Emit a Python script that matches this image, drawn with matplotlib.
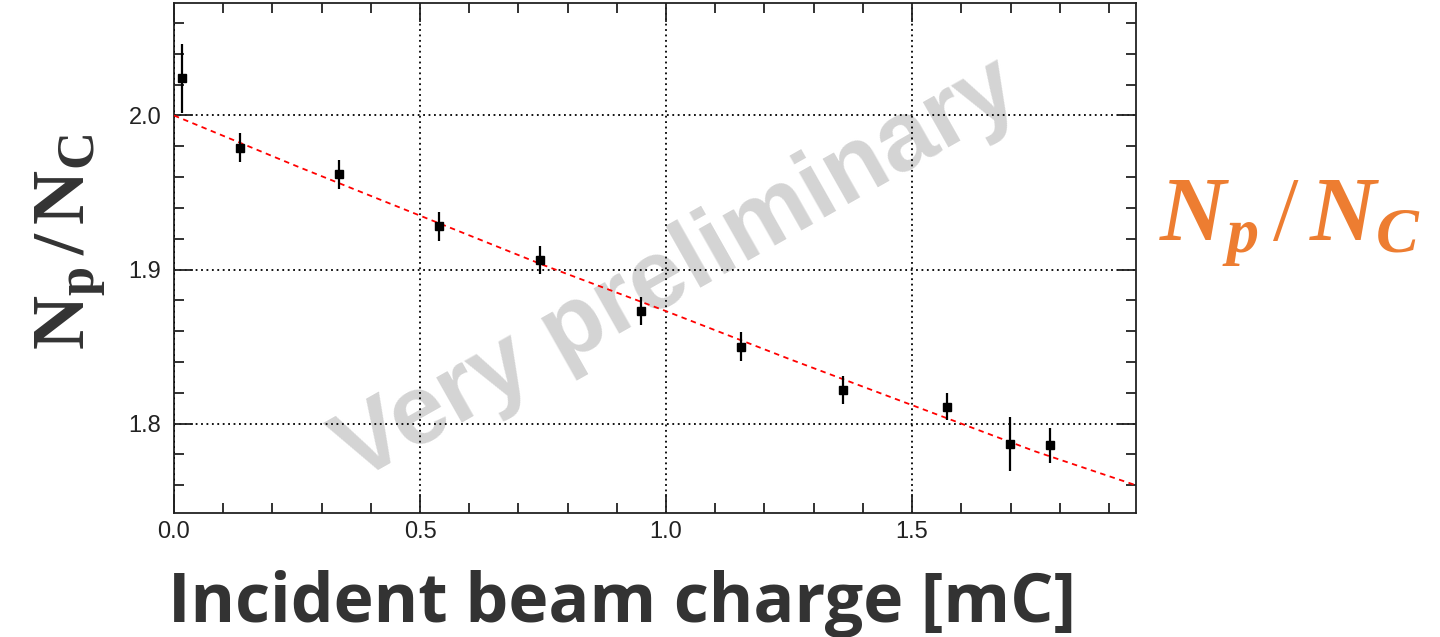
import matplotlib
matplotlib.use("Agg")
import matplotlib.pyplot as plt
from matplotlib.ticker import MultipleLocator, FormatStrFormatter

# beam charge [mC] vs Np/NC ratio
charge = [0.016, 0.134, 0.335, 0.539, 0.743, 0.949, 1.152, 1.360, 1.570, 1.698, 1.780]
ratio = [2.024, 1.979, 1.962, 1.928, 1.906, 1.873, 1.850, 1.822, 1.811, 1.787, 1.786]
ratio_err = [0.0225, 0.0094, 0.0094, 0.0092, 0.0092, 0.0090, 0.0092, 0.0090, 0.0089, 0.0175, 0.0114]

# fitted curve
fit_x = [0.0, 0.25, 0.5, 0.75, 1.0, 1.25, 1.5, 1.75, 1.955]
fit_y = [2.000, 1.967, 1.935, 1.903, 1.873, 1.842, 1.812, 1.782, 1.760]

xlim = (0.0, 1.955)
ylim = (1.742, 2.073)

plt.rcParams['mathtext.fontset'] = 'custom'
plt.rcParams['mathtext.rm'] = 'Liberation Serif'
plt.rcParams['mathtext.bf'] = 'Liberation Serif:bold'
plt.rcParams['mathtext.it'] = 'Liberation Serif:bold:italic'

fig = plt.figure(figsize=(14.4, 6.37), dpi=100)
ax = fig.add_axes([174 / 1440, 1 - 513 / 637, (1136 - 174) / 1440, (513 - 3) / 637])

# watermark
ax.text(1.024, 1.899, "Very preliminary", rotation=29.5, rotation_mode='anchor',
        ha='center', va='center', fontsize=71, fontweight='bold',
        family='Liberation Sans', color='#d4d4d4', zorder=0)

ax.plot(fit_x, fit_y, color='red', lw=1.3, linestyle=(0, (3, 2.5)), zorder=3)
ax.errorbar(charge, ratio, yerr=ratio_err, fmt='s', color='black', ms=6,
            elinewidth=1.6, capsize=0, zorder=4)

ax.set_xlim(*xlim)
ax.set_ylim(*ylim)
ax.xaxis.set_major_locator(MultipleLocator(0.5))
ax.xaxis.set_minor_locator(MultipleLocator(0.1))
ax.yaxis.set_major_locator(MultipleLocator(0.1))
ax.yaxis.set_minor_locator(MultipleLocator(0.02))
ax.xaxis.set_major_formatter(FormatStrFormatter('%.1f'))
ax.yaxis.set_major_formatter(FormatStrFormatter('%.1f'))

ax.grid(True, which='major', color='black', lw=1.3, linestyle=(0, (1, 2)))
ax.set_axisbelow(False)
ax.tick_params(which='both', direction='in', top=True, right=True, colors='#222222',
               labelsize=17, width=1.3)
ax.tick_params(which='major', length=14)
ax.tick_params(which='minor', length=7)
ax.tick_params(axis='x', pad=6)
ax.tick_params(axis='y', pad=9)
for lab in ax.get_xticklabels() + ax.get_yticklabels():
    lab.set_family('Liberation Sans')
for sp in ax.spines.values():
    sp.set_linewidth(1.3)
    sp.set_color('#222222')

fig.text(70 / 1440, 1 - 242 / 637, r'$\mathbf{N_p\,/\,N_C}$', rotation=90,
         ha='center', va='center', fontsize=54, color='#333333')
fig.text(1290 / 1440, 1 - 224 / 637, r'$N_p\,/\,N_C$', ha='center', va='center',
         fontsize=66, color='#ED7D31')
fig.text(168 / 1440, 1 - 622 / 637, "Incident beam charge [mC]", ha='left',
         va='baseline', fontsize=49, fontweight='bold', family='Open Sans',
         color='#333333')

fig.savefig("out.png", dpi=100)
